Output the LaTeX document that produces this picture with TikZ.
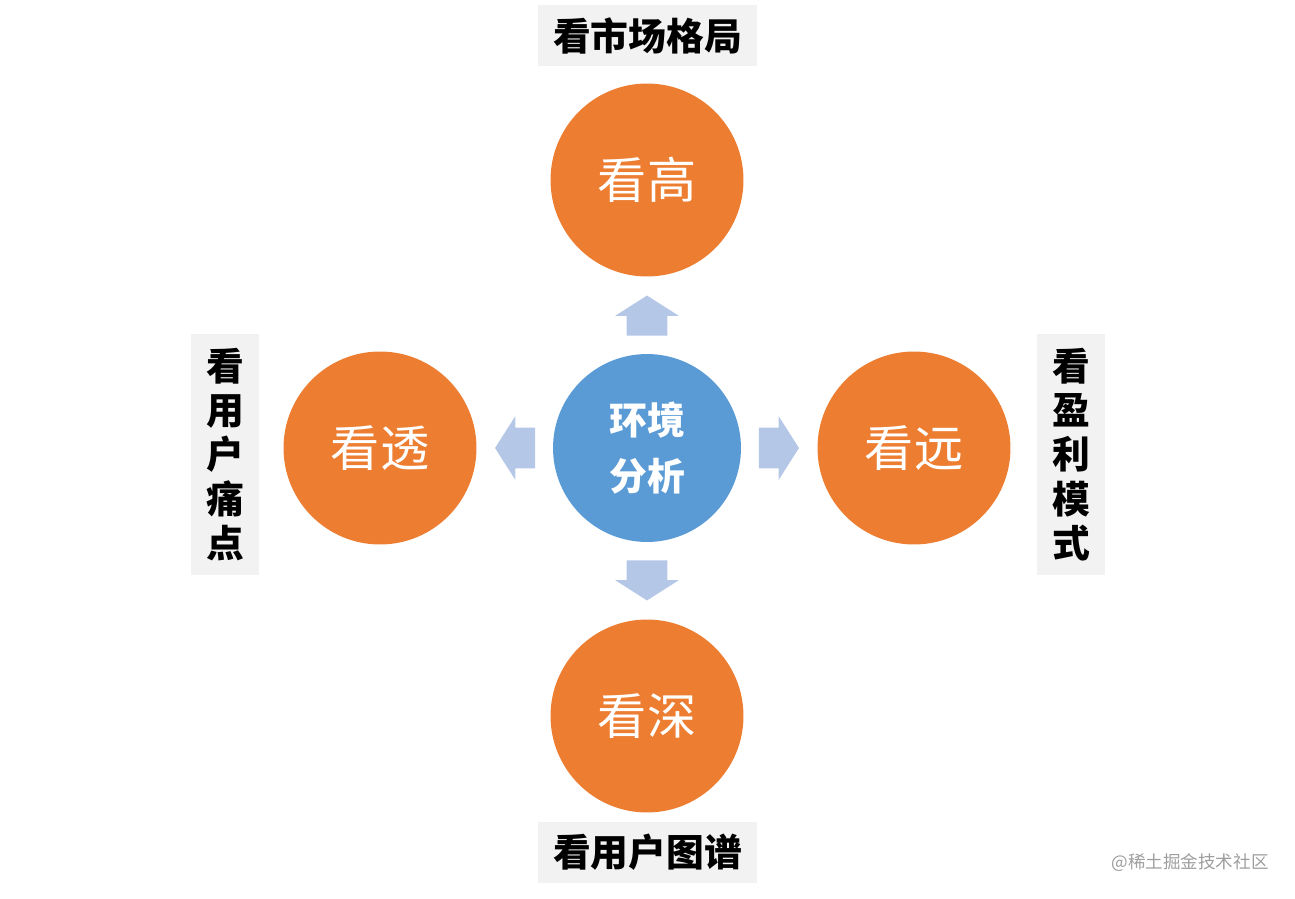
\documentclass[tikz,border=0pt]{standalone}
\usepackage{fontspec}
\newfontfamily\cjk{Noto Sans CJK SC}
\usetikzlibrary{calc,positioning,shapes.arrows}
\definecolor{envorange}{RGB}{237,125,49}
\definecolor{envblue}{RGB}{91,155,213}
\definecolor{envarrow}{RGB}{180,199,231}
\definecolor{envbox}{RGB}{242,242,242}
\tikzset{
 env core/.style={circle,fill=envblue,minimum size=3.76cm,inner sep=0pt,
                  text=white,align=center,
                  font=\cjk\bfseries\fontsize{21.5}{32.3}\selectfont},
 env view/.style={circle,fill=envorange,minimum size=3.86cm,inner sep=0pt,
                  text=white,font=\cjk\fontsize{28}{30}\selectfont},
 env arrow/.style={single arrow,fill=envarrow,draw=none,
                   inner xsep=0pt,inner ysep=.4cm,minimum height=.8cm,
                   single arrow head extend=.23cm,single arrow tip angle=115},
 env label/.style={fill=envbox,inner sep=0pt,align=center,
                   font=\cjk\bfseries\fontsize{21.5}{25.2}\selectfont},
 env label wide/.style={env label,minimum width=4.38cm,minimum height=1.22cm},
 env label tall/.style={env label,minimum width=1.36cm,minimum height=4.82cm},
 env mark/.style={text=black!38,font=\cjk\fontsize{10}{12}\selectfont}
}

\begin{document}
\begin{tikzpicture}[x=.02cm,y=-.02cm]
 \useasboundingbox (0,0) rectangle (1295,899);
 \node[env core] (env) at (647,448) {环境\\分析};
 \foreach \n/\t/\x/\y in {gao/看高/647/180,tou/看透/380/448,
                          yuan/看远/914/448,shen/看深/647/716}{
   \node[env view] (\n) at (\x,\y) {\t};
 }
 \foreach \n/\r in {gao/90,tou/180,yuan/0,shen/270}{
   \node[env arrow,rotate=\r] (a\n) at ($(env)!.47!(\n)$) {};
 }
 \node[env label wide] (lgao) at (647.5,35.5) {看市场格局};
 \node[env label wide] (lshen) at (647.5,852.5) {看用户图谱};
 \node[env label tall] (ltou) at (225,454.5) {看\\用\\户\\痛\\点};
 \node[env label tall] (lyuan) at (1071,454.5) {看\\盈\\利\\模\\式};
 \node[env mark] (mark) at (1190,863) {@稀土掘金技术社区};
\end{tikzpicture}
\end{document}
